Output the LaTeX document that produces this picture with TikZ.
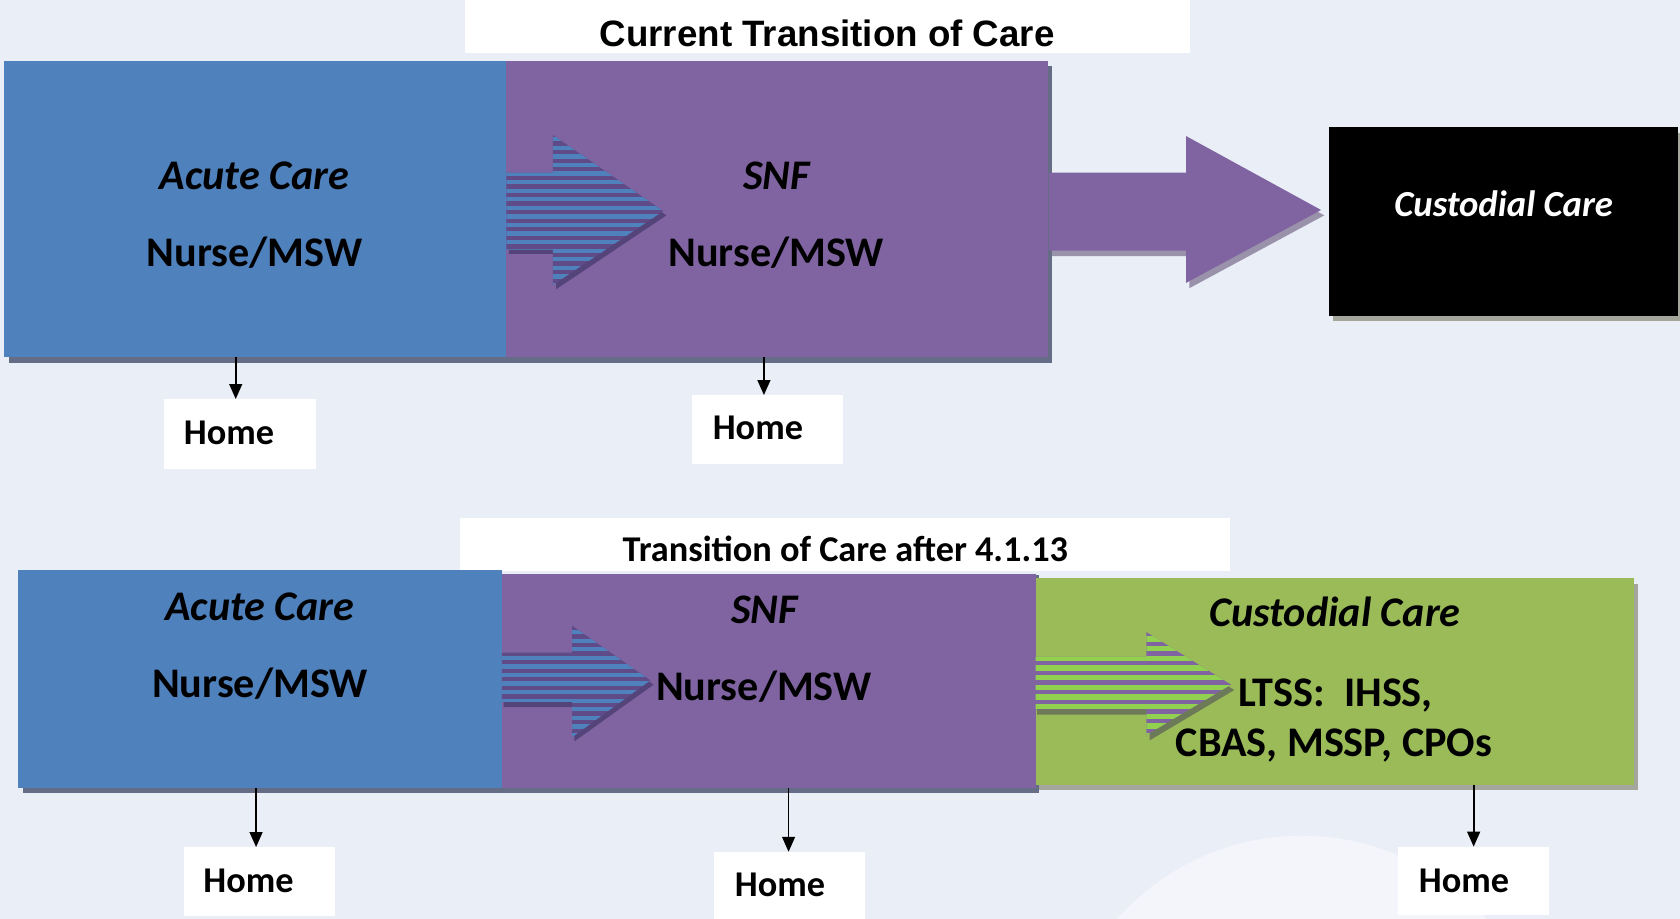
\documentclass[tikz,border=0pt]{standalone}
\usepackage{fontspec}
\setmainfont{Carlito}
\newfontfamily\arialfont{Liberation Sans}
\usetikzlibrary{arrows.meta}
\definecolor{bgc}{HTML}{EAEEF7}
\definecolor{acutec}{HTML}{4F81BD}
\definecolor{snfc}{HTML}{8064A2}
\definecolor{custc}{HTML}{9BBB59}
\definecolor{stripedark}{HTML}{5E4B88}
\definecolor{stripegreen}{HTML}{92D050}
\definecolor{shadowc}{HTML}{646C86}
\definecolor{shadowp}{HTML}{9A92AA}
\definecolor{shadowg}{HTML}{A4A69C}
\definecolor{shadowo}{HTML}{6D7A57}
\begin{document}
\begin{tikzpicture}[x=1bp,y=-1bp,
  boxs/.style={anchor=north west,inner sep=0pt,outer sep=0pt,draw=none},
  maintext/.style={anchor=base,inner sep=0pt,font=\bfseries\fontsize{39.5}{39.5}\selectfont},
  maintextit/.style={maintext,font=\bfseries\itshape\fontsize{39.5}{39.5}\selectfont},
  hometext/.style={anchor=base,inner sep=0pt,font=\bfseries\fontsize{34}{34}\selectfont},
  homebox/.style={boxs,fill=white,minimum width=141bp,minimum height=64bp},
  homearrow/.style={draw=black,line width=1.6bp,-{Triangle[length=14bp,width=12bp]}}
]
\useasboundingbox (0,0) rectangle (1568,857.7);
\fill[bgc] (0,0) rectangle (1568,857.7);
% faint background circle
\fill[white,opacity=0.45] (1215,1010) circle[radius=230];

% ================= TOP =================
\node[boxs,fill=white,minimum width=677bp,minimum height=49bp] (t1box) at (434,0) {};
\node[anchor=base,inner sep=0pt,font=\arialfont\bfseries\fontsize{34.4}{34.4}\selectfont] (t1) at (772,43.6) {Current Transition of Care};

% shadows
\fill[shadowc] (8,62) rectangle (982,338.5);
\fill[shadowg] (1244,124) rectangle (1568,300);
% boxes
\node[boxs,fill=acutec,minimum width=469bp,minimum height=276bp] (ac1) at (3.5,57) {};
\node[boxs,fill=snfc,minimum width=506bp,minimum height=276bp] (snf1) at (472.5,57) {};
\node[boxs,fill=black,minimum width=326bp,minimum height=176bp] (cc1) at (1240,118.5) {};

% big purple arrow (shadow + arrow)
\fill[shadowp] (982,166) -- (1110,166) -- (1110,132) -- (1236,201) -- (1110,269) -- (1110,239) -- (982,239) -- cycle;
\fill[snfc] (979,161) -- (1107,161) -- (1107,127) -- (1233,196) -- (1107,264) -- (1107,234) -- (979,234) -- cycle;

% striped arrow top
\fill[stripedark!90!black] (475,166) -- (519,166) -- (519,130) -- (622,201) -- (519,270) -- (519,237) -- (475,237) -- cycle;
\begin{scope}
\clip (472.5,161) -- (516,161) -- (516,126) -- (619,197) -- (516,266) -- (516,233) -- (472.5,233) -- cycle;
\fill[stripedark] (470,120) rectangle (625,275);
\foreach \yy in {120,128,...,272} \fill[acutec] (470,\yy) rectangle (625,\yy+4);
\end{scope}

% texts top
\node[maintextit] (ac1t) at (237.5,176.4) {Acute Care};
\node[maintext] (ac1n) at (237.7,248.9) {Nurse/MSW};
\node[maintextit] (snf1t) at (724.8,176.4) {SNF};
\node[maintext] (snf1n) at (724.5,248.9) {Nurse/MSW};
\node[anchor=base,inner sep=0pt,text=white,font=\bfseries\itshape\fontsize{34.4}{34.4}\selectfont] (cc1t) at (1403.4,202.2) {Custodial Care};

% home top
\node[homebox,minimum width=142bp,minimum height=65bp] (h1) at (153,372.4) {};
\node[hometext] (h1t) at (213.7,414.7) {Home};
\node[homebox] (h2) at (646,368.7) {};
\node[hometext] (h2t) at (707.4,410) {Home};
\coordinate (a1) at (220,333);
\coordinate (a2) at (713,333);
\draw[homearrow] (a1) -- (a1 |- h1.north);
\draw[homearrow] (a2) -- (a2 |- h2.north);

% ================= BOTTOM =================
\node[boxs,fill=white,minimum width=719bp,minimum height=50bp] (t2box) at (429,483) {};
\node[anchor=base,inner sep=0pt,font=\bfseries\fontsize{34}{34}\selectfont] (t2) at (789,524.2) {Transition of Care after 4.1.13};

% shadows
\fill[shadowc] (21,537) rectangle (970,740);
\fill[shadowg] (970,545) rectangle (1529,737.5);
% boxes
\node[boxs,fill=acutec,minimum width=452bp,minimum height=203bp] (ac2) at (16.5,532) {};
\node[boxs,fill=snfc,minimum width=498bp,minimum height=199.5bp] (snf2) at (468.5,536) {};
\node[boxs,fill=custc,minimum width=558.5bp,minimum height=193bp] (cc2) at (966.5,539.8) {};

% striped arrow bottom 1
\fill[stripedark!90!black] (470,613) -- (536,613) -- (536,588) -- (610,639) -- (536,692) -- (536,660) -- (470,660) -- cycle;
\begin{scope}
\clip (468.5,609) -- (534,609) -- (534,584) -- (607,635) -- (534,688) -- (534,655) -- (468.5,655) -- cycle;
\fill[stripedark] (465,580) rectangle (615,695);
\foreach \yy in {580,588,...,692} \fill[acutec] (465,\yy) rectangle (615,\yy+4);
\end{scope}

% striped arrow bottom 2
\fill[shadowo] (968,618) -- (1073,618) -- (1073,595) -- (1152,644) -- (1073,691) -- (1073,667) -- (968,667) -- cycle;
\begin{scope}
\clip (966.5,613) -- (1070,613) -- (1070,590) -- (1149,639) -- (1070,686) -- (1070,662) -- (966.5,662) -- cycle;
\fill[snfc] (960,585) rectangle (1160,695);
\foreach \yy in {585,594,...,692} \fill[stripegreen] (960,\yy) rectangle (1160,\yy+5);
\end{scope}

% texts bottom
\node[maintextit] (ac2t) at (242.5,578.7) {Acute Care};
\node[maintext] (ac2n) at (242.7,650.9) {Nurse/MSW};
\node[maintextit] (snf2t) at (713.6,581.8) {SNF};
\node[maintext] (snf2n) at (713,654) {Nurse/MSW};
\node[maintextit] (cc2t) at (1246,584.9) {Custodial Care};
\node[maintext] (cc2a) at (1246.4,659) {LTSS:\ \ IHSS,};
\node[maintext] (cc2b) at (1245,706.2) {CBAS, MSSP, CPOs};

% home bottom
\node[homebox] (h3) at (171.5,790.6) {};
\node[hometext] (h3t) at (232,833.2) {Home};
\node[homebox,minimum height=63bp] (h4) at (666.5,795) {};
\node[hometext] (h4t) at (728,836.3) {Home};
\node[homebox] (h5) at (1305,790.2) {};
\node[hometext] (h5t) at (1366.4,833.2) {Home};
\coordinate (a3) at (239,735);
\coordinate (a4) at (736,735.5);
\coordinate (a5) at (1375.4,732.7);
\draw[homearrow] (a3) -- (a3 |- h3.north);
\draw[homearrow] (a4) -- (a4 |- h4.north);
\draw[homearrow] (a5) -- (a5 |- h5.north);
\end{tikzpicture}
\end{document}
